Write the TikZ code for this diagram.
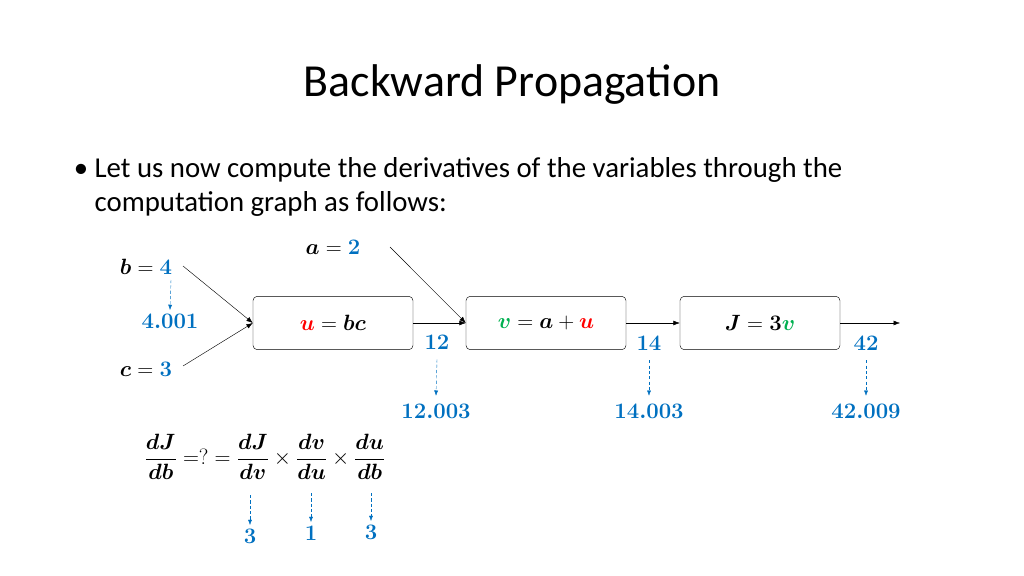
\documentclass[tikz,border=0pt]{standalone}
\usepackage{amsmath,bm}
\usepackage{fontspec}
\setmainfont{Carlito}
\usetikzlibrary{arrows.meta}
\definecolor{myblue}{RGB}{0,112,192}
\definecolor{myred}{RGB}{255,0,0}
\definecolor{mygreen}{RGB}{0,176,80}
\tikzset{
  opbox/.style={draw,rounded corners=4pt,minimum width=150,minimum height=50,font=\fontsize{20}{24}\selectfont},
  link/.style={-{Latex[length=6pt]}},
  hint/.style={myblue,densely dashed,-{Latex[length=5pt]}},
  val/.style={myblue,font=\fontsize{20}{24}\selectfont},
  lbl/.style={font=\fontsize{20}{24}\selectfont}
}
\newcommand{\bb}[1]{\bm{#1}}
\begin{document}
\begin{tikzpicture}[x=0.9375pt,y=-0.9375pt]
\useasboundingbox (0,0) rectangle (1024,576);
\node[font=\fontsize{43}{50}\selectfont] (title) at (512,85) {Backward Propagation};
\node[anchor=north west,align=left,font=\fontsize{27}{32}\selectfont] (text) at (70,154)
  {\textbullet\ Let us now compute the derivatives of the variables through the\\
   \phantom{\textbullet\ }computation graph as follows:};
% computation graph
\node[opbox] (u) at (333,323) {$\color{myred}\bb{u}\color{black}=\bb{bc}$};
\node[opbox] (v) at (546,323) {$\color{mygreen}\bb{v}\color{black}=\bb{a}+\color{myred}\bb{u}$};
\node[opbox] (J) at (760,323) {$\bb{J}=\bb{3}\color{mygreen}\bb{v}$};
\node[lbl] (b) at (146,267) {$\bb{b}=\color{myblue}\bb{4}$};
\node[lbl] (c) at (146,369) {$\bb{c}=\color{myblue}\bb{3}$};
\node[lbl] (a) at (333,247) {$\bb{a}=\color{myblue}\bb{2}$};
\coordinate (bend) at (183,266);
\coordinate (cend) at (183,366);
\coordinate (aend) at (390,247);
\coordinate (out) at (900,323);
\draw[link] (bend) -- (u.west);
\draw[link] (cend) -- (u.west);
\draw[link] (aend) -- (v.west);
\draw[link] (u) -- (v);
\draw[link] (v) -- (J);
\draw[link] (J) -- (out);
% forward values and nudged values
\node[val] (bn) at (170,321) {$\bb{4.001}$};
\draw[hint] (171,280) -- (bn.north);
\node[val] (f12) at (437,342) {$\bb{12}$};
\node[val] (f14) at (649,343) {$\bb{14}$};
\node[val] (f42) at (866,343) {$\bb{42}$};
\node[val] (n12) at (436,411) {$\bb{12.003}$};
\node[val] (n14) at (649,411) {$\bb{14.003}$};
\node[val] (n42) at (866,411) {$\bb{42.009}$};
\foreach \p in {12,14,42}
  \draw[hint] ([yshift=-6]f\p.south) -- ([yshift=4]n\p.north);
% chain rule
\node[lbl] (eq) at (265,457) {$\dfrac{\bb{dJ}}{\bb{db}}=?=\dfrac{\bb{dJ}}{\bb{dv}}\times\dfrac{\bb{dv}}{\bb{du}}\times\dfrac{\bb{du}}{\bb{db}}$};
\node[val] (d1) at (250,536) {$\bb{3}$};
\node[val] (d2) at (311,533) {$\bb{1}$};
\node[val] (d3) at (371,532) {$\bb{3}$};
\draw[hint] (250,495) -- (d1.north);
\draw[hint] (311,493) -- (d2.north);
\draw[hint] (371,493) -- (d3.north);
\end{tikzpicture}
\end{document}
